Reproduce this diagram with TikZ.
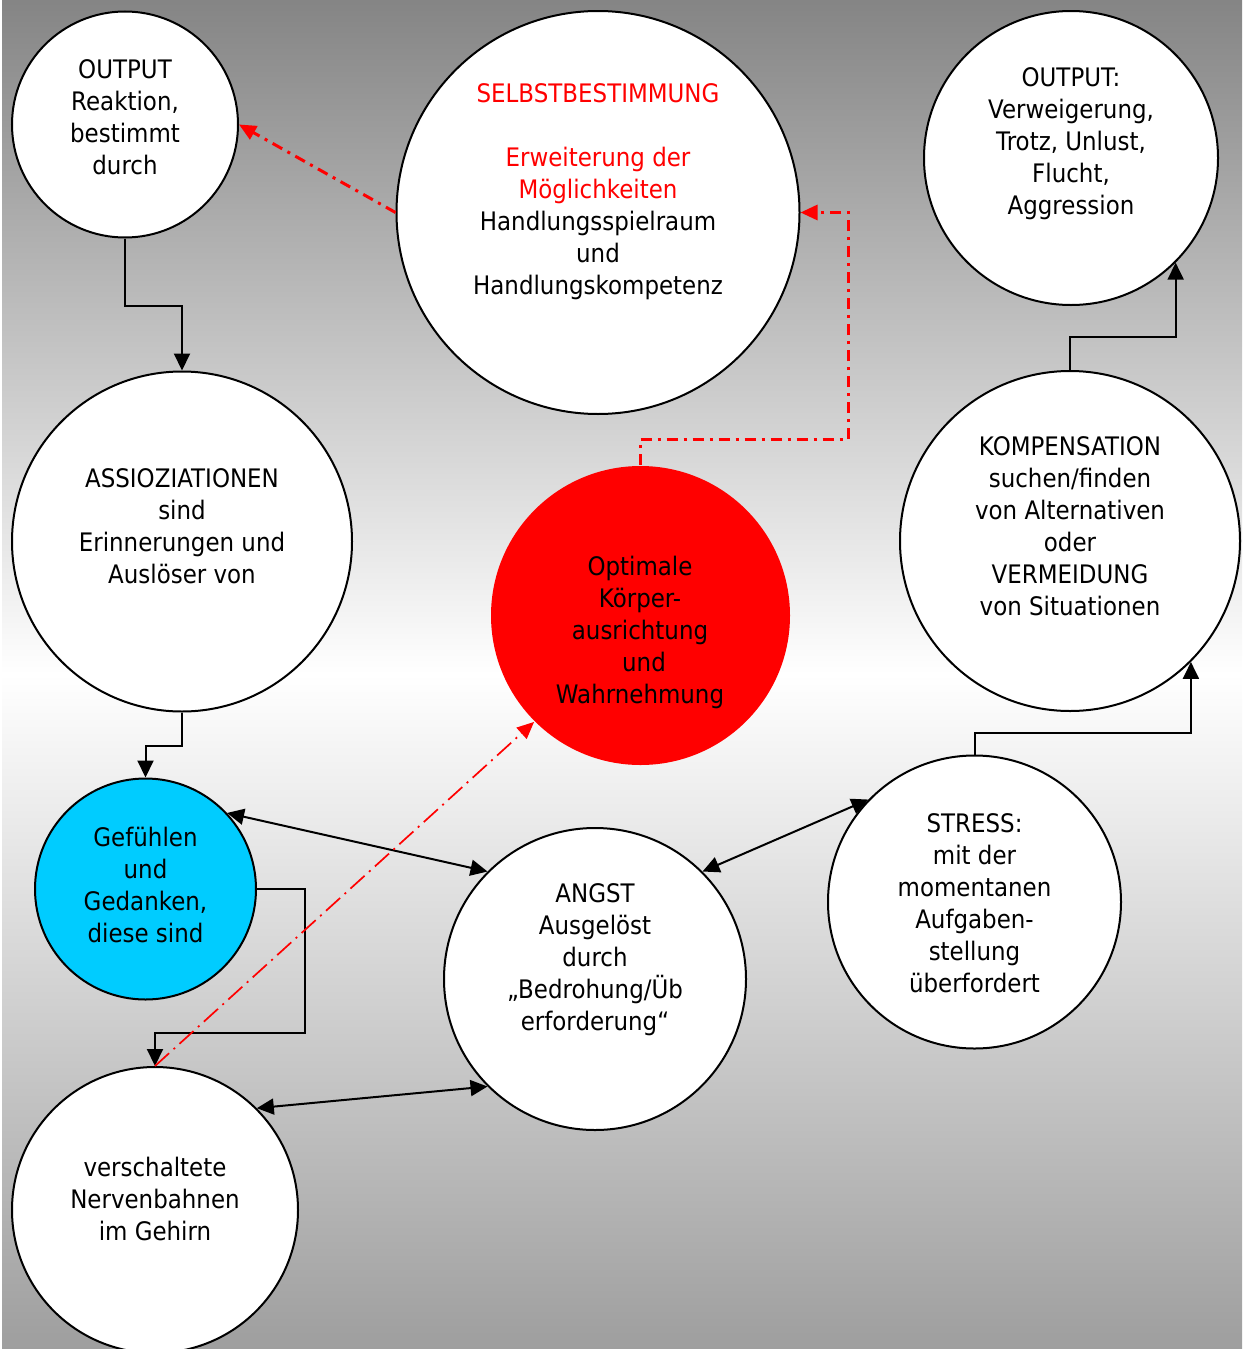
\documentclass[tikz,border=0pt]{standalone}
\usepackage{fontspec}
\setmainfont{DejaVu Sans}[FakeStretch=0.9]
\usetikzlibrary{arrows.meta,calc}
\definecolor{bgtop}{gray}{0.52}
\definecolor{bgbot}{gray}{0.62}
\definecolor{cyanfill}{HTML}{00CCFF}
\definecolor{redfill}{HTML}{FF0000}
\tikzset{
 circ/.style={circle, draw=black, line width=2pt, fill=white, inner sep=0pt, minimum size=#1},
 txt/.style={align=center, font=\fontsize{25.5}{32}\selectfont, inner sep=0pt},
 tip/.tip={Triangle[length=17pt,width=16pt]},
 rtip/.tip={Triangle[length=17pt,width=15pt]},
 arr/.style={line width=2pt, -tip},
 darr/.style={line width=2pt, tip-tip},
 rarr/.style={draw=red, line width=3pt, dash pattern=on 11pt off 6pt on 3pt off 6pt, -rtip},
 rarrthin/.style={draw=red, line width=1.7pt, dash pattern=on 19pt off 6pt on 2pt off 6pt, -rtip},
}
\begin{document}
\begin{tikzpicture}[x=1pt,y=-1pt]
\useasboundingbox (0,0) rectangle (1242,1349);
\clip (0,0) rectangle (1242,1349);
\shade[top color=bgtop, bottom color=bgbot, middle color=white] (0,0) rectangle (1242,1349);
\fill[white] (0,0) rectangle (2,1349);

% circles
\node[circ=226pt] (o1) at (125,124.5) {};
\node[circ=403pt] (selbst) at (598,212.5) {};
\node[circ=294pt] (o2) at (1071,158) {};
\node[circ=340pt] (assoz) at (182,541.5) {};
\node[circ=299pt, draw=none, fill=redfill] (opt) at (640.5,615.5) {};
\node[circ=340pt] (komp) at (1070,541) {};
\node[circ=221pt, fill=cyanfill] (gef) at (145.5,889) {};
\node[circ=302pt] (angst) at (595,979) {};
\node[circ=293pt] (stress) at (974.5,902) {};
\node[circ=286pt] (nerv) at (155,1210) {};

% texts
\node[txt] (t-o1) at (125,117) {OUTPUT\\Reaktion,\\bestimmt\\durch};
\node[txt] (t-selbst) at (598,191.5) {\textcolor{red}{SELBSTBESTIMMUNG}\\[32pt]\textcolor{red}{Erweiterung der}\\\textcolor{red}{Möglichkeiten}\\Handlungsspielraum\\und\\Handlungskompetenz};
\node[txt] (t-o2) at (1071,143.5) {OUTPUT:\\Verweigerung,\\Trotz, Unlust,\\Flucht,\\Aggression};
\node[txt] (t-assoz) at (182,526) {ASSIOZIATIONEN\\sind\\Erinnerungen und\\Auslöser von};
\node[txt] (t-opt) at (640,632) {Optimale\\Körper-\\ausrichtung\\\hspace*{8pt}und\\Wahrnehmung};
\node[txt] (t-komp) at (1070,526) {KOMPENSATION\\suchen/finden\\von Alternativen\\oder\\VERMEIDUNG\\von Situationen};
\node[txt] (t-gef) at (145.5,885) {Gefühlen\\und\\Gedanken,\\diese sind};
\node[txt] (t-angst) at (595,960) {ANGST\\Ausgelöst\\durch\\„Bedrohung/Üb\\erforderung“};
\node[txt] (t-stress) at (974.5,903.5) {STRESS:\\mit der\\momentanen\\Aufgaben-\\stellung\\überfordert};
\node[txt] (t-nerv) at (155,1199) {verschaltete\\Nervenbahnen\\im Gehirn};

% black connectors
\draw[arr] (o1.south) -- ++(0,67) -| (assoz.north);
\draw[arr] (assoz.south) -- ++(0,33) -| (gef.north);
\draw[arr] (gef.east) -- ++(48,0) -- ++(0,144) -| (nerv.north);
\draw[darr] (gef.43) -- (angst.135);
\draw[darr] (angst.45) -- (stress.136);
\draw[darr] (nerv.45) -- (angst.225);
\draw[arr] (stress.north) -- ++(0,-22) -| (komp.-45);
\draw[arr] (komp.north) -- ++(0,-33) -| (o2.-45);

% red connectors
\draw[rarrthin] (nerv.north) -- (opt.225);
\draw[rarr] (opt.north) -- ++(0,-26) -| ($(selbst.east)+(48,0)$) -- (selbst.east);
\draw[rarr] (selbst.west) -- (o1.east);
\end{tikzpicture}
\end{document}
